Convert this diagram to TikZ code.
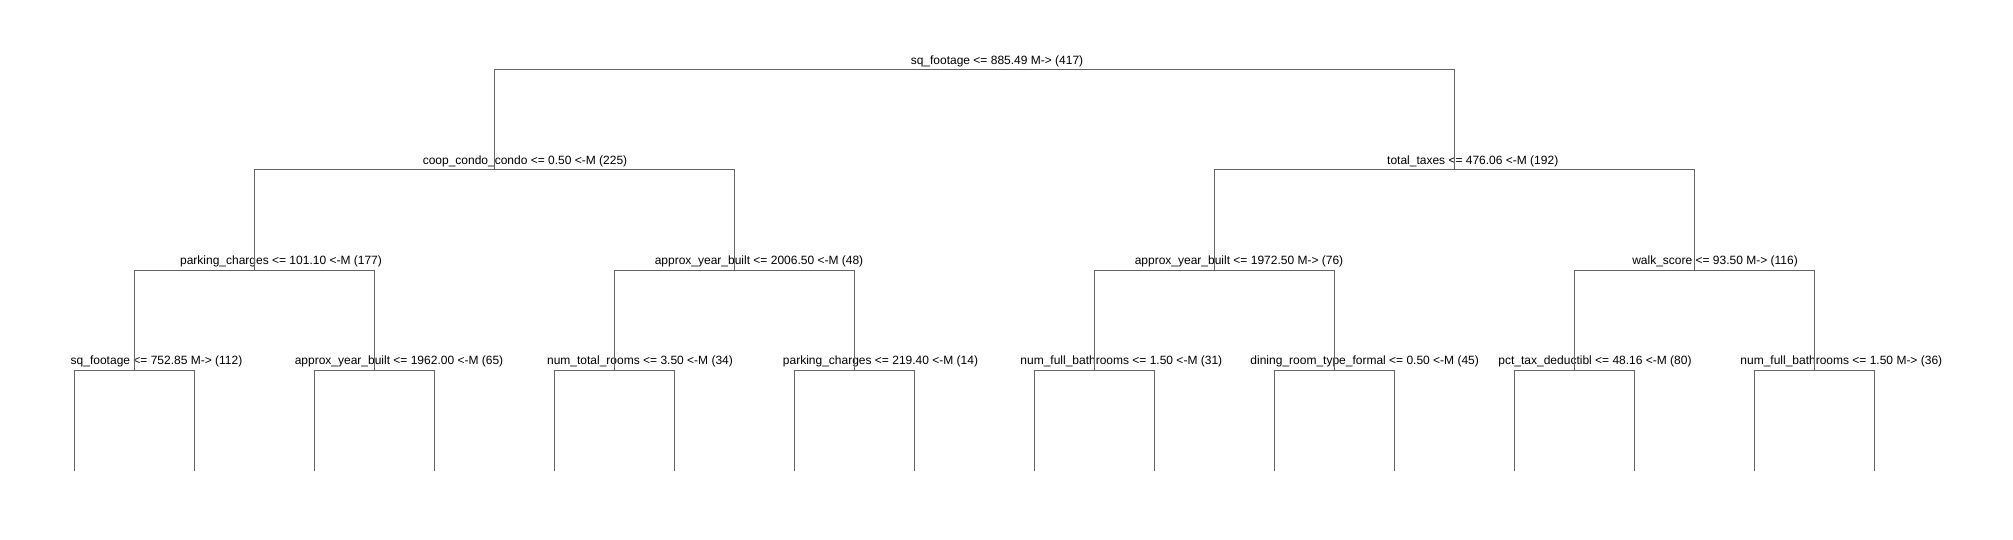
\documentclass[tikz,border=0pt]{standalone}
\usepackage{fontspec}
\setmainfont{Liberation Sans}
\definecolor{linegray}{RGB}{100,100,100}
\begin{document}
\begin{tikzpicture}[x=1pt,y=-1pt,
  lbl/.style={anchor=base,inner sep=0pt,outer sep=0pt,font=\fontsize{12}{14}\selectfont,text=black},
  edge/.style={draw=linegray,line width=1pt}]
\useasboundingbox[fill=white] (0,0) rectangle (2013,540);
% split points
\coordinate (n0) at (974.4,70);
\coordinate (n1) at (494.4,170);
\coordinate (n2) at (1454.4,170);
\coordinate (n3) at (254.4,270);
\coordinate (n4) at (734.4,270);
\coordinate (n5) at (1214.4,270);
\coordinate (n6) at (1694.4,270);
\coordinate (n7) at (134.4,370);
\coordinate (n8) at (374.4,370);
\coordinate (n9) at (614.4,370);
\coordinate (n10) at (854.4,370);
\coordinate (n11) at (1094.4,370);
\coordinate (n12) at (1334.4,370);
\coordinate (n13) at (1574.4,370);
\coordinate (n14) at (1814.4,370);
% leaves
\foreach \i in {1,...,16} {
  \coordinate (l\i) at ({74.4+120*(\i-1)},471);
}
% labels
\node[lbl] (t0) at (997,64.5) {sq\_footage <= 885.49 M-> (417)};
\node[lbl] (t1) at (525,164.5) {coop\_condo\_condo <= 0.50 <-M (225)};
\node[lbl] (t2) at (1472.7,164.5) {total\_taxes <= 476.06 <-M (192)};
\node[lbl] (t3) at (281,264.5) {parking\_charges <= 101.10 <-M (177)};
\node[lbl] (t4) at (759,264.5) {approx\_year\_built <= 2006.50 <-M (48)};
\node[lbl] (t5) at (1239,264.5) {approx\_year\_built <= 1972.50 M-> (76)};
\node[lbl] (t6) at (1715,264.5) {walk\_score <= 93.50 M-> (116)};
\node[lbl] (t7) at (156.5,364.5) {sq\_footage <= 752.85 M-> (112)};
\node[lbl] (t8) at (399,364.5) {approx\_year\_built <= 1962.00 <-M (65)};
\node[lbl] (t9) at (640,364.5) {num\_total\_rooms <= 3.50 <-M (34)};
\node[lbl] (t10) at (880.5,364.5) {parking\_charges <= 219.40 <-M (14)};
\node[lbl] (t11) at (1121.3,364.5) {num\_full\_bathrooms <= 1.50 <-M (31)};
\node[lbl] (t12) at (1364.7,364.5) {dining\_room\_type\_formal <= 0.50 <-M (45)};
\node[lbl] (t13) at (1595,364.5) {pct\_tax\_deductibl <= 48.16 <-M (80)};
\node[lbl] (t14) at (1841.3,364.5) {num\_full\_bathrooms <= 1.50 M-> (36)};
% connectors
\draw[edge] (n1) -- (n1 |- n0) -- (n2 |- n0) -- (n2);
\draw[edge] (n3) -- (n3 |- n1) -- (n4 |- n1) -- (n4);
\draw[edge] (n5) -- (n5 |- n2) -- (n6 |- n2) -- (n6);
\draw[edge] (n7) -- (n7 |- n3) -- (n8 |- n3) -- (n8);
\draw[edge] (n9) -- (n9 |- n4) -- (n10 |- n4) -- (n10);
\draw[edge] (n11) -- (n11 |- n5) -- (n12 |- n5) -- (n12);
\draw[edge] (n13) -- (n13 |- n6) -- (n14 |- n6) -- (n14);
\draw[edge] (l1) -- (l1 |- n7) -- (l2 |- n7) -- (l2);
\draw[edge] (l3) -- (l3 |- n8) -- (l4 |- n8) -- (l4);
\draw[edge] (l5) -- (l5 |- n9) -- (l6 |- n9) -- (l6);
\draw[edge] (l7) -- (l7 |- n10) -- (l8 |- n10) -- (l8);
\draw[edge] (l9) -- (l9 |- n11) -- (l10 |- n11) -- (l10);
\draw[edge] (l11) -- (l11 |- n12) -- (l12 |- n12) -- (l12);
\draw[edge] (l13) -- (l13 |- n13) -- (l14 |- n13) -- (l14);
\draw[edge] (l15) -- (l15 |- n14) -- (l16 |- n14) -- (l16);
\end{tikzpicture}
\end{document}
